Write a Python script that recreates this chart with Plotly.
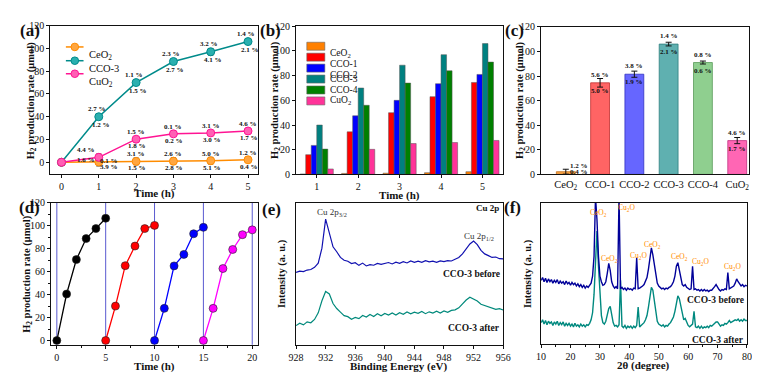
import plotly.graph_objects as go
import numpy as np

FONT = "Liberation Serif, Times New Roman, serif"
INK = "#111111"

# ---------------- (a) data ----------------
time_a = [0, 1, 2, 3, 4, 5]
ceo2_a = [0, 0.3, 0.8, 1.0, 1.4, 2.2]
cco3_a = [0, 40, 70, 88.5, 97, 106]
cuo2_a = [0, 4.4, 20.3, 25, 25.8, 27.5]
err_ceo2_a = [0.5, 3.5, 3, 3, 3, 2]
err_cco3_a = [0.5, 2, 1.5, 2, 3, 2]
err_cuo2_a = [0.5, 3, 1.5, 1, 1.5, 2]
pct_up_ceo2 = ["", "0.1 %", "3.1 %", "2.6 %", "5.0 %", "1.2 %"]
pct_dn_ceo2 = ["", "3.9 %", "1.5 %", "2.8 %", "5.1 %", "0.4 %"]
pct_up_cco3 = ["", "2.7 %", "1.1 %", "2.3 %", "3.2 %", "1.4 %"]
pct_dn_cco3 = ["", "1.2 %", "1.5 %", "2.7 %", "4.1 %", "2.1 %"]
pct_up_cuo2 = ["", "4.4 %", "1.5 %", "0.1 %", "3.1 %", "4.6 %"]
pct_dn_cuo2 = ["", "1.6 %", "1.8 %", "0.2 %", "3.0 %", "1.7 %"]

# ---------------- (b) data ----------------
time_b = [1, 2, 3, 4, 5]
names_b = ["CeO<sub>2</sub>", "CCO-1", "CCO-2", "CCO-3", "CCO-4", "CuO<sub>2</sub>"]
ceo2_b = [0.3, 0.8, 1.0, 1.4, 2.2]
cco1_b = [16, 34.5, 50, 63, 74.5]
cco2_b = [23.5, 47.5, 60, 73.5, 81]
cco3_b = [40, 70, 88.5, 97, 106]
cco4_b = [20.5, 56, 74, 84, 91]
cuo2_b = [4.4, 20.3, 25, 25.8, 27.5]

# ---------------- (c) data ----------------
cat_c = ["CeO<sub>2</sub>", "CCO-1", "CCO-2", "CCO-3", "CCO-4", "CuO<sub>2</sub>"]
val_c = [2.2, 74.5, 81.5, 106, 91, 27.5]
err_c = [2, 3.5, 2.5, 1.5, 1.2, 2.5]
pct_up_c = ["1.2 %", "5.6 %", "3.8 %", "1.4 %", "0.8 %", "4.6 %"]
pct_dn_c = ["0.4 %", "5.0 %", "1.9 %", "2.1 %", "0.6 %", "1.7 %"]

# ---------------- (d) data ----------------
cycle1_t = [0, 1, 2, 3, 4, 5]
cycle1_v = [0, 40.5, 70.5, 88.8, 97.5, 106.5]
cycle2_t = [5, 6, 7, 8, 9, 10]
cycle2_v = [0, 30, 65.2, 82.3, 97.5, 100.3]
cycle3_t = [10, 11, 12, 13, 14, 15]
cycle3_v = [0, 28, 65, 75, 93, 98.6]
cycle4_t = [15, 16, 17, 18, 19, 20]
cycle4_v = [0, 28, 62.7, 79.3, 92.2, 96.4]
cycle_bounds = [0, 5, 10, 15, 20]

# ---------------- (e) XPS data (928 -> 956 eV, 0.5 eV step) ----------------
xps_start, xps_step = 928.0, 0.5
xps_before = [
    51.0, 51.8, 51.5, 52.6, 53.0, 54.5, 57.5, 68.0, 88.5, 79.0,
    69.0, 65.5, 61.5, 59.5, 58.8, 57.2, 57.8, 55.9, 57.5, 55.5,
    56.4, 56.0, 57.3, 56.6, 57.0, 57.9, 56.9, 58.2, 57.4, 58.5,
    57.6, 59.0, 58.1, 58.9, 58.0, 59.2, 58.4, 58.9, 58.1, 59.1,
    58.5, 59.3, 59.0, 60.2, 61.5, 64.0, 67.5, 71.0, 73.0, 70.5,
    66.5, 64.0, 62.8, 61.5, 61.8, 60.6, 60.5]
xps_after = [
    13.5, 15.2, 14.0, 16.1, 15.5, 17.8, 22.5, 31.0, 37.5, 35.8,
    29.0, 25.5, 23.0, 20.5, 19.8, 18.0, 19.2, 18.4, 20.6, 19.5,
    21.3, 19.9, 21.8, 20.4, 22.0, 20.9, 22.4, 21.0, 22.6, 21.5,
    23.1, 21.8, 23.0, 22.2, 23.4, 21.9, 23.2, 22.3, 23.6, 22.4,
    23.8, 22.9, 24.2, 24.6, 26.0, 29.0, 31.5, 33.5, 32.0, 30.8,
    28.5, 27.6, 26.2, 25.8, 24.9, 25.4, 24.5]

# ---------------- (f) XRD data (10 -> 80 deg, 0.5 deg step) ----------------
xrd_start, xrd_step = 10.0, 0.5
xrd_before = [
    45, 47, 44, 46.5, 43.5, 46, 44, 45.5, 43, 45,
    43.5, 45.5, 42.5, 44.5, 43, 44, 42, 44.5, 42.5, 43.5,
    41.5, 43.5, 42, 43, 41, 42.5, 40.5, 42, 40, 41.5,
    39.5, 41, 40, 42, 43, 48, 62, 104, 88, 62,
    48, 44, 41.5, 42, 44, 50, 57, 52, 44, 41,
    39.5, 40.5, 39, 105, 39, 40, 38.5, 39.5, 38, 39.5,
    38.5, 39, 38, 39.5, 39, 61, 39, 39.5, 40, 41,
    42, 44, 47, 53, 62, 68, 63, 55, 47, 43,
    41, 40, 39, 39.5, 38.5, 39.5, 39, 40, 40.5, 42,
    44, 48, 55, 57.5, 52, 46, 42, 41, 42, 40,
    39, 38.5, 39, 55, 38.5, 39, 38, 38.5, 37.5, 38.5,
    37.5, 38.5, 37.5, 38, 37, 38, 38, 39, 40.5, 42,
    40, 38.5, 37.5, 38.5, 38, 39, 38.5, 50.5, 39, 39.5,
    40, 41, 43, 46, 44, 42, 41, 42, 40.5, 41.5,
    41]
xrd_after = [
    15, 17, 14, 16.5, 13.5, 16, 14.5, 15.5, 13, 15.5,
    14, 16, 13, 15, 13.5, 15.5, 12.5, 14.5, 13, 14.5,
    12.5, 14, 12, 14.5, 12.5, 13.5, 12, 14, 12.5, 13.5,
    12, 13.5, 13, 14.5, 17, 22, 35, 62, 80, 55,
    32, 20, 15, 14, 16, 21, 25, 26.5, 20, 15,
    12.5, 13, 12, 13.5, 45, 12.5, 11.5, 13, 11, 12.5,
    11.5, 12.5, 11, 12.5, 11.5, 13, 26, 12, 13, 14,
    15, 17, 20, 26, 34, 40, 38, 30, 22, 16,
    14, 13, 12.5, 13.5, 12, 13, 12.5, 14, 15, 17,
    19, 23, 29, 34, 32, 26, 20, 17, 18, 15,
    13, 12, 13, 14, 23, 12, 11.5, 12.5, 11, 12.5,
    11, 12, 11.5, 12.5, 11.5, 13, 12.5, 13.5, 14, 15.5,
    15.5, 14, 12.5, 13.5, 13, 14.5, 14, 15, 16.5, 15,
    15.5, 16.5, 17, 16.5, 17.5, 16, 17, 16, 17.5, 16.5,
    16.5]
xrd_labels = ["CeO<sub>2</sub>", "Cu<sub>2</sub>O", "CeO<sub>2</sub>", "Cu<sub>2</sub>O",
              "CeO<sub>2</sub>", "CeO<sub>2</sub>", "Cu<sub>2</sub>O", "Cu<sub>2</sub>O"]
xrd_label_x = [29.4, 39.1, 33.3, 43.1, 48.0, 56.9, 64.1, 75.2]
xrd_label_y = [93, 96, 60, 62, 70, 61.5, 58, 54.5]

xps_x = [xps_start + xps_step * i for i in range(len(xps_before))]
xrd_x = [xrd_start + xrd_step * i for i in range(len(xrd_before))]

W, H = 760, 375
def xd(a, b):
    return [a / W, b / W]
def yd(top, bottom):
    return [1 - bottom / H, 1 - top / H]
def px(x, y):
    return x / W, 1 - y / H

fig = go.Figure()

# ---- (a)
col_a = {"CeO2": ("#FF8C00", "#FFA640"), "CCO-3": ("#008B8B", "#2AAFAF"), "CuO2": ("#FF1493", "#FF5FB4")}
for key, yv, ev in [("CeO2", ceo2_a, err_ceo2_a), ("CCO-3", cco3_a, err_cco3_a), ("CuO2", cuo2_a, err_cuo2_a)]:
    lc, mc = col_a[key]
    fig.add_trace(go.Scatter(x=time_a, y=yv, mode="lines+markers", xaxis="x", yaxis="y",
                             line=dict(color=lc, width=1.5),
                             marker=dict(size=8, color=mc, line=dict(color=lc, width=1)),
                             error_y=dict(type="data", array=ev, color="#333", thickness=1, width=2.5),
                             showlegend=False))

# ---- (b)
col_b = ["#FF8000", "#FF0000", "#0000FF", "#008080", "#008000", "#FF3399"]
for name, vals, c in zip(names_b, [ceo2_b, cco1_b, cco2_b, cco3_b, cco4_b, cuo2_b], col_b):
    fig.add_trace(go.Bar(x=time_b, y=vals, name=name, marker=dict(color=c, line=dict(color="#555", width=0.5)),
                         xaxis="x2", yaxis="y2", showlegend=False))

# ---- (c)
col_c = ["#F7A145", "#FF6464", "#6666FF", "#5FB0B0", "#8FCF8F", "#FF66B4"]
col_c_edge = ["#C07020", "#C03030", "#3030C0", "#2E7F7F", "#5A9A5A", "#C03080"]
fig.add_trace(go.Bar(x=cat_c, y=val_c, xaxis="x3", yaxis="y3", width=0.55,
                     marker=dict(color=col_c, line=dict(color=col_c_edge, width=0.8)),
                     error_y=dict(type="data", array=err_c, color="#111", thickness=1, width=3),
                     showlegend=False))

# ---- (d)
for tt, vv, c in [(cycle1_t, cycle1_v, "#000000"), (cycle2_t, cycle2_v, "#FF0000"),
                  (cycle3_t, cycle3_v, "#0000FF"), (cycle4_t, cycle4_v, "#FF00FF")]:
    fig.add_trace(go.Scatter(x=tt, y=vv, mode="lines+markers", xaxis="x4", yaxis="y4",
                             line=dict(color=c, width=1.3),
                             marker=dict(size=8, color=c, line=dict(color="#222", width=0.6)),
                             showlegend=False))

# ---- (e)
fig.add_trace(go.Scatter(x=xps_x, y=xps_before, mode="lines", xaxis="x5", yaxis="y5",
                         line=dict(color="#1010B0", width=1.2), showlegend=False))
fig.add_trace(go.Scatter(x=xps_x, y=xps_after, mode="lines", xaxis="x5", yaxis="y5",
                         line=dict(color="#00897B", width=1.2), showlegend=False))

# ---- (f)
fig.add_trace(go.Scatter(x=xrd_x, y=xrd_after, mode="lines", xaxis="x6", yaxis="y6",
                         line=dict(color="#00897F", width=1.4), showlegend=False))
fig.add_trace(go.Scatter(x=xrd_x, y=xrd_before, mode="lines", xaxis="x6", yaxis="y6",
                         line=dict(color="#000099", width=1.4), showlegend=False))

tf = dict(family=FONT, size=10, color=INK)
def ax(domain, anchor, **kw):
    d = dict(domain=domain, anchor=anchor, showline=True, linecolor=INK, linewidth=1.2, mirror=True,
             ticks="outside", ticklen=3, tickwidth=1, tickcolor=INK, tickfont=tf,
             showgrid=False, zeroline=False)
    d.update(kw)
    return d

A_X, A_Y = xd(36, 248), yd(12, 165)
B_X, B_Y = xd(286.7, 498), yd(12.7, 165.7)
C_X, C_Y = xd(536.7, 749), yd(13.3, 165.7)
D_X, D_Y = xd(36.7, 248), yd(195, 341.7)
E_X, E_Y = xd(286.7, 498), yd(195, 341.7)
F_X, F_Y = xd(536.7, 746.7), yd(195, 340.7)

fig.update_layout(
    width=W, height=H, margin=dict(l=0, r=0, t=0, b=0),
    paper_bgcolor="white", plot_bgcolor="white",
    barmode="group", bargap=0.2, bargroupgap=0,
    xaxis=ax(A_X, "y", range=[-0.3, 5.27], dtick=1),
    yaxis=ax(A_Y, "x", range=[-10, 120], dtick=20),
    xaxis2=ax(B_X, "y2", range=[0.5, 5.5], tickvals=time_b),
    yaxis2=ax(B_Y, "x2", range=[0, 120], dtick=20),
    xaxis3=ax(C_X, "y3", range=[-0.72, 5.35], ticks="", tickfont=dict(family=FONT, size=10.5, color=INK)),
    yaxis3=ax(C_Y, "x3", range=[0, 120], dtick=20),
    xaxis4=ax(D_X, "y4", range=[-0.6, 20.6], dtick=5, minor=dict(dtick=2.5, ticks="outside", ticklen=2, tickcolor=INK)),
    yaxis4=ax(D_Y, "x4", range=[-3.7, 120], dtick=20, minor=dict(dtick=10, ticks="outside", ticklen=2, tickcolor=INK)),
    xaxis5=ax(E_X, "y5", range=[928, 956], dtick=4),
    yaxis5=ax(E_Y, "x5", range=[0, 100], ticks="", showticklabels=False),
    xaxis6=ax(F_X, "y6", range=[10, 80], dtick=10, minor=dict(dtick=5, ticks="outside", ticklen=2, tickcolor=INK)),
    yaxis6=ax(F_Y, "x6", range=[0, 100], ticks="", showticklabels=False),
)

ann = []
shapes = []

def ptxt(x, y, text, xref, yref, xs=0, ys=0, size=7, color=INK, bold=True, xa="center"):
    ann.append(dict(x=x, y=y, xref=xref, yref=yref, text=("<b>%s</b>" % text) if bold else text,
                    showarrow=False, xshift=xs, yshift=ys, xanchor=xa,
                    font=dict(family=FONT, size=size, color=color)))

# percentage labels (a)
for i in range(1, 6):
    t = time_a[i]
    ptxt(t, cco3_a[i], pct_up_cco3[i], "x", "y", xs=-2, ys=8)
    ptxt(t, cco3_a[i], pct_dn_cco3[i], "x", "y", xs=2, ys=-8)
    if i == 1:
        ptxt(t, cuo2_a[i], pct_up_cuo2[i], "x", "y", xs=-13, ys=7)
        ptxt(t, cuo2_a[i], pct_dn_cuo2[i], "x", "y", xs=-13, ys=-3)
        ptxt(t, ceo2_a[i], pct_up_ceo2[i], "x", "y", xs=10, ys=1)
        ptxt(t, ceo2_a[i], pct_dn_ceo2[i], "x", "y", xs=10, ys=-5)
    else:
        ptxt(t, cuo2_a[i], pct_up_cuo2[i], "x", "y", ys=7)
        ptxt(t, cuo2_a[i], pct_dn_cuo2[i], "x", "y", xs=1, ys=-7)
        ptxt(t, ceo2_a[i], pct_up_ceo2[i], "x", "y", ys=7)
        ptxt(t, ceo2_a[i], pct_dn_ceo2[i], "x", "y", xs=1, ys=-7)

# percentage labels (c)
for i, c in enumerate(cat_c):
    if i == 0:
        ptxt(i, val_c[i], pct_up_c[i], "x3", "y3", xs=13, ys=6)
        ptxt(i, val_c[i], pct_dn_c[i], "x3", "y3", xs=13, ys=0)
    else:
        ptxt(i, val_c[i], pct_up_c[i], "x3", "y3", ys=8)
        ptxt(i, val_c[i], pct_dn_c[i], "x3", "y3", ys=-8)

# manual legend (a)
leg_a = [("CeO<sub>2</sub>", "CeO2"), ("CCO-3", "CCO-3"), ("CuO<sub>2</sub>", "CuO2")]
leg_a_y = [0.856, 0.763, 0.675]
for (lab, key), yy in zip(leg_a, leg_a_y):
    lc, mc = col_a[key]
    shapes.append(dict(type="line", xref="x domain", yref="y domain", x0=0.075, x1=0.16, y0=yy, y1=yy,
                       line=dict(color=lc, width=1.5)))
    shapes.append(dict(type="circle", xref="x domain", yref="y domain", xsizemode="pixel", ysizemode="pixel",
                       xanchor=0.118, yanchor=yy, x0=-3.8, x1=3.8, y0=-3.8, y1=3.8,
                       fillcolor=mc, line=dict(color=lc, width=1)))
    ann.append(dict(x=0.179, y=yy, xref="x domain", yref="y domain", text=lab, showarrow=False,
                    xanchor="left", font=dict(family=FONT, size=10.5, color=INK)))

# manual legend (b)
for k, (lab, c) in enumerate(zip(names_b, col_b)):
    yy = (165.7 - (33.3 + 11.3 * k)) / 153.0
    shapes.append(dict(type="rect", xref="x2 domain", yref="y2 domain", x0=0.052, x1=0.139,
                       y0=yy - 0.027, y1=yy + 0.027, fillcolor=c, line=dict(color="#666", width=0.6)))
    ann.append(dict(x=0.153, y=yy, xref="x2 domain", yref="y2 domain", text=lab, showarrow=False,
                    xanchor="left", font=dict(family=FONT, size=9.5, color=INK)))

# vertical lines (d)
for b in cycle_bounds:
    shapes.append(dict(type="line", xref="x4", yref="y4 domain", x0=b, x1=b, y0=0, y1=1,
                       line=dict(color="#5A5AD0", width=1), layer="below"))

# (e) labels
ptxt(932.8, 93, "Cu 2p<sub>3/2</sub>", "x5", "y5", size=9, color="#333", bold=False)
ptxt(952.7, 76, "Cu 2p<sub>1/2</sub>", "x5", "y5", size=9, color="#333", bold=False)
ptxt(956, 96, "Cu 2p", "x5", "y5", xs=-2, size=9, xa="right")
ptxt(956, 49.5, "CCO-3 before", "x5", "y5", xs=-1, size=9.5, xa="right")
ptxt(956, 12, "CCO-3 after", "x5", "y5", xs=-1, size=9.5, xa="right")

# (f) labels
for lab, lx, ly in zip(xrd_labels, xrd_label_x, xrd_label_y):
    ptxt(lx, ly, lab, "x6", "y6", size=7.5, color="#FF8C00", bold=False)
ptxt(80, 31.4, "CCO-3 before", "x6", "y6", xs=-1, size=9.5, xa="right")
ptxt(80, 3.0, "CCO-3 after", "x6", "y6", xs=-1, size=9.5, xa="right")

# axis titles
def title(xp, yp, text, angle=0, size=10.5):
    x, y = px(xp, yp)
    ann.append(dict(x=x, y=y, xref="paper", yref="paper", text="<b>%s</b>" % text, showarrow=False,
                    textangle=angle, xanchor="center", yanchor="middle",
                    font=dict(family=FONT, size=size, color=INK)))

ytitle = "H<sub>2</sub> production rate (μmol)"
title(142, 185, "Time (h)", size=11)
title(16.5, 89, ytitle, angle=-90)
title(392, 187, "Time (h)", size=11)
title(265, 89, ytitle, angle=-90)
title(515, 89, ytitle, angle=-90)
title(142, 364, "Time (h)", size=11)
title(12.7, 268, ytitle, angle=-90)
title(392, 364, "Binding Energy (eV)", size=11)
title(273, 268, "Intensity (a. u.)", angle=-90)
title(641, 363, "2θ (degree)", size=11)
title(524, 268, "Intensity (a. u.)", angle=-90)

# panel letters
for lx, ly, lt in [(15, 17, "(a)"), (261, 17, "(b)"), (510, 17, "(c)"),
                   (15, 200, "(d)"), (262, 202, "(e)"), (508, 200, "(f)")]:
    title(lx, ly, lt, size=17)

fig.update_layout(annotations=ann, shapes=shapes)
fig.write_html("out.html")
